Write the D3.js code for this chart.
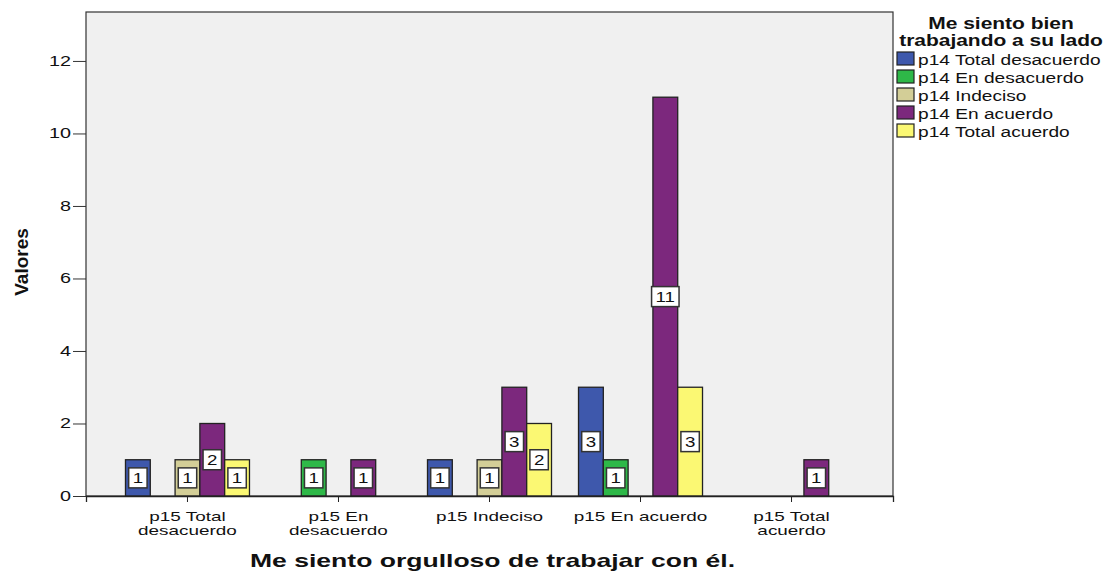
<!DOCTYPE html>
<html><head><meta charset="utf-8">
<script src="https://cdn.jsdelivr.net/npm/d3@7"></script>
<style>
html,body{margin:0;padding:0;background:#fff;}
svg{display:block;font-family:"Liberation Sans",Arial,sans-serif;}
</style></head>
<body><svg id="chart" width="1108" height="571"></svg>
<script>
// Data
const categories = ["p15 Total desacuerdo","p15 En desacuerdo","p15 Indeciso","p15 En acuerdo","p15 Total acuerdo"];
const tickLabels = [["p15 Total","desacuerdo"],["p15 En","desacuerdo"],["p15 Indeciso"],["p15 En acuerdo"],["p15 Total","acuerdo"]];
const seriesNames = ["p14 Total desacuerdo","p14 En desacuerdo","p14 Indeciso","p14 En acuerdo","p14 Total acuerdo"];
const seriesColors = ["#3E58AC","#2EB848","#D3CE97","#7C287D","#FBF873"];
const vTotalDesacuerdo = [1,0,1,3,0];
const vEnDesacuerdo    = [0,1,0,1,0];
const vIndeciso        = [1,0,1,0,0];
const vEnAcuerdo       = [2,1,3,11,1];
const vTotalAcuerdo    = [1,0,2,3,0];
const seriesValues = [vTotalDesacuerdo,vEnDesacuerdo,vIndeciso,vEnAcuerdo,vTotalAcuerdo];
const yTicks = [0,2,4,6,8,10,12];
const legendTitle = ["Me siento bien","trabajando a su lado"];
const xTitle = "Me siento orgulloso de trabajar con él.";
const yTitle = "Valores";

const SX = 1.32; // horizontal stretch of the reference's text
const svg = d3.select("#chart");
const plot = {left:86, right:893, top:12, bottom:496};

function stext(parent, x, y, str, size, anchor, weight, sx) {
  const g = parent.append("g").attr("transform", `translate(${x},${y}) scale(${sx || SX},1)`);
  g.append("text").attr("x",0).attr("y",0).attr("text-anchor",anchor||"start")
    .attr("font-size",size).attr("font-weight",weight||"normal").attr("fill","#111").text(str);
  return g;
}

const x = d3.scaleBand().domain(categories).range([plot.left, plot.right]).paddingInner(0).paddingOuter(0.172);
const groupW = 124;
const xs = d3.scaleBand().domain(seriesNames).range([-groupW/2, groupW/2]).padding(0);
const y = d3.scaleLinear().domain([0, 13.35]).range([plot.bottom, plot.top]);

// plot background
svg.append("rect").attr("x",plot.left).attr("y",plot.top)
  .attr("width",plot.right-plot.left).attr("height",plot.bottom-plot.top)
  .attr("fill","#F0F0F0").attr("stroke","#333").attr("stroke-width",1.2);

// y axis
const yAxis = svg.append("g").attr("transform",`translate(${plot.left},0)`)
  .call(d3.axisLeft(y).tickValues(yTicks).tickSize(13).tickFormat(""));
yAxis.select(".domain").remove();
yAxis.selectAll(".tick line").attr("stroke","#333");
yTicks.forEach(t => stext(svg, plot.left-15, y(t)+5, d3.format("d")(t), 15, "end"));

// bars
const bars = [];
categories.forEach((c,ci)=>{
  seriesNames.forEach((s,si)=>{
    bars.push({c, s, v: seriesValues[si][ci], color: seriesColors[si]});
  });
});
const g = svg.append("g");
bars.filter(d=>d.v>0).forEach(d=>{
  const bx = x(d.c) + x.bandwidth()/2 + xs(d.s);
  g.append("rect").attr("x",bx).attr("y",y(d.v)).attr("width",xs.bandwidth()).attr("height",y(0)-y(d.v))
    .attr("fill",d.color).attr("stroke","#222").attr("stroke-width",1.3);
});

// x axis baseline and ticks
const xAxis = svg.append("g").attr("transform",`translate(0,${plot.bottom})`)
  .call(d3.axisBottom(x).tickSize(6).tickFormat(""));
xAxis.select(".domain").attr("stroke","#222").attr("stroke-width",1.3);
xAxis.selectAll(".tick line").attr("stroke","#222");
categories.forEach((c,ci)=>{
  const lines = tickLabels[ci];
  lines.forEach((l,li)=>{
    stext(svg, x(c)+x.bandwidth()/2, plot.bottom+25+li*13.5, l, 12.2, "middle", "normal", 1.55);
  });
});

// value labels
bars.filter(d=>d.v>0).forEach(d=>{
  const cx = x(d.c) + x.bandwidth()/2 + xs(d.s) + xs.bandwidth()/2;
  const cy = (y(d.v)+y(0))/2;
  const lbl = svg.append("g");
  const tg = stext(lbl, cx, cy+5.5, String(d.v), 15, "middle", "normal", 1.25);
  const w = Math.max(15, tg.node().getBBox().width*1.25+8);
  lbl.insert("rect",":first-child").attr("x",cx-w/2).attr("y",cy-10).attr("width",w).attr("height",20)
    .attr("fill","#fff").attr("stroke","#333").attr("stroke-width",1.5);
});

// axis titles
svg.append("text").attr("transform",`translate(28,${(plot.top+plot.bottom)/2+8}) rotate(-90)`)
  .attr("text-anchor","middle").attr("font-size",19).attr("font-weight","bold").attr("fill","#111").text(yTitle);
svg.append("text").attr("x",250).attr("y",567).attr("textLength",485).attr("lengthAdjust","spacingAndGlyphs")
  .attr("font-size",19).attr("font-weight","bold").attr("fill","#111").text(xTitle);

// legend
legendTitle.forEach((l,i)=>{
  stext(svg, 1001, 29+i*16.5, l, 16, "middle", "bold", 1.31);
});
seriesNames.forEach((s,i)=>{
  const yy = 52 + i*18;
  svg.append("rect").attr("x",897).attr("y",yy).attr("width",17).attr("height",13)
    .attr("fill",seriesColors[i]).attr("stroke","#222").attr("stroke-width",1.2);
  stext(svg, 918, yy+12.5, s, 14.5, "start", "normal", 1.32);
});
</script></body></html>
